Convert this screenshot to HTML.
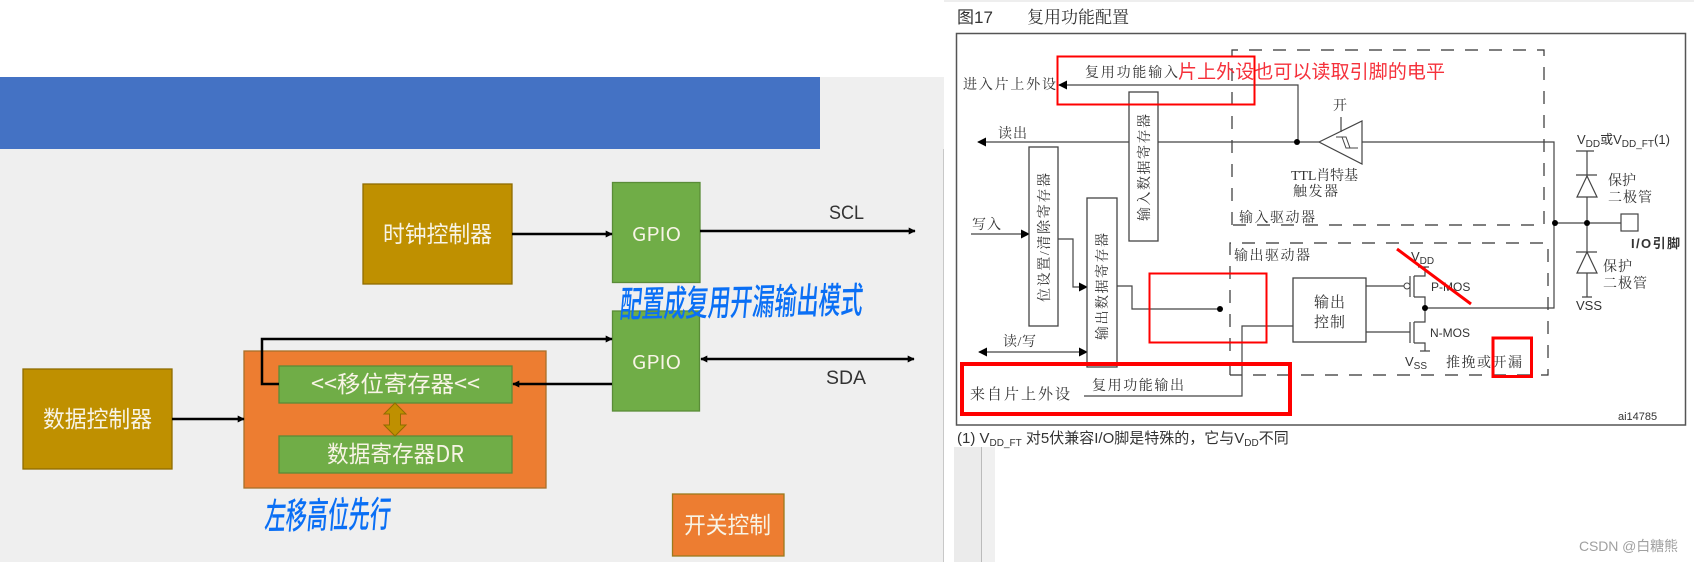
<!DOCTYPE html>
<html><head><meta charset="utf-8"><style>
html,body{margin:0;padding:0;background:#fff;width:1694px;height:562px;overflow:hidden}
svg{display:block;position:absolute;left:0;top:0}
.l{font-family:"Liberation Sans","Noto Sans CJK SC",sans-serif}
.cw{font-family:"Noto Sans CJK SC","Liberation Sans",sans-serif;fill:#f8f4e6;font-size:23px;font-weight:400}
.s{font-family:"Liberation Serif","Noto Serif CJK SC",serif;fill:#333;font-size:14px}
.a{font-family:"Liberation Sans","Noto Sans CJK SC",sans-serif;fill:#333;font-size:13px}
.h{font-family:"Noto Sans CJK SC",sans-serif;fill:#0a6ff5;font-weight:500}
</style></head><body>
<svg width="1694" height="562" viewBox="0 0 1694 562" xmlns="http://www.w3.org/2000/svg">
<defs>
<marker id="m" markerUnits="userSpaceOnUse" viewBox="0 0 10 10" refX="9" refY="5" markerWidth="9" markerHeight="10" orient="auto-start-reverse"><path d="M0 0L10 5L0 10Z" fill="#000"/></marker>
<marker id="b" markerUnits="userSpaceOnUse" viewBox="0 0 10 10" refX="9" refY="5" markerWidth="7" markerHeight="8" orient="auto-start-reverse"><path d="M0 0L10 5L0 10Z" fill="#000"/></marker>
</defs>

<!-- backgrounds -->
<rect x="0" y="77" width="944" height="485" fill="#efefef"/>
<rect x="0" y="77" width="820" height="72" fill="#4472c4"/>
<rect x="944" y="2" width="750" height="560" fill="#fff"/>
<rect x="944" y="0" width="750" height="2" fill="#eee"/>
<rect x="943" y="149" width="1" height="413" fill="#c8c8c8"/>
<rect x="955" y="447" width="40" height="115" fill="#f0f0f0"/>
<rect x="954" y="447" width="27" height="115" fill="#ebebeb"/>
<rect x="981" y="447" width="1" height="115" fill="#bbb"/>

<!-- LEFT -->
<g stroke-width="1.3">
<rect x="363" y="184" width="149" height="100" fill="#bf9000" stroke="#8f6c00"/>
<rect x="612.5" y="182.5" width="87.5" height="100" fill="#70ad47" stroke="#5a8c38"/>
<rect x="612.5" y="311" width="87" height="100" fill="#70ad47" stroke="#5a8c38"/>
<rect x="23" y="369" width="149" height="100" fill="#bf9000" stroke="#8f6c00"/>
<rect x="244" y="351" width="302" height="137" fill="#ed7d31" stroke="#a8702a"/>
<rect x="279" y="366" width="233" height="37" fill="#70ad47" stroke="#5a8c38"/>
<rect x="279" y="436" width="233" height="37" fill="#70ad47" stroke="#5a8c38"/>
<rect x="672.5" y="494" width="111.5" height="62" fill="#ed7d31" stroke="#9b7a1c"/>
</g>
<path d="M395 403L406 414H400.500V425H406L395 436L384 425H389.500V414H384Z" fill="#bf9000" stroke="#8f6c00"/>
<g stroke="#000" stroke-width="2.500" fill="none">
<path d="M512 234H612" marker-end="url(#b)"/>
<path d="M700 231H915" marker-end="url(#b)"/>
<path d="M701 359H914" marker-start="url(#b)" marker-end="url(#b)"/>
<path d="M279 384H262V339H612" marker-end="url(#b)"/>
<path d="M612 384H513" marker-end="url(#b)"/>
<path d="M172 419H244" marker-end="url(#b)"/>
</g>
<text class="cw" x="383" y="242" textLength="109" lengthAdjust="spacingAndGlyphs">时钟控制器</text>
<text class="cw" x="43" y="427" textLength="109" lengthAdjust="spacingAndGlyphs">数据控制器</text>
<text class="cw" x="311" y="392" textLength="169" lengthAdjust="spacingAndGlyphs">&lt;&lt;移位寄存器&lt;&lt;</text>
<text class="cw" x="327" y="462" textLength="137" lengthAdjust="spacingAndGlyphs">数据寄存器DR</text>
<text class="cw" x="684" y="533" textLength="87" lengthAdjust="spacingAndGlyphs">开关控制</text>
<text class="cw" x="632" y="241" style="font-size:19px" textLength="49" lengthAdjust="spacingAndGlyphs">GPIO</text>
<text class="cw" x="632" y="369" style="font-size:19px" textLength="49" lengthAdjust="spacingAndGlyphs">GPIO</text>
<text class="l" x="829" y="219" font-size="19" fill="#333" textLength="35" lengthAdjust="spacingAndGlyphs">SCL</text>
<text class="l" x="826" y="384" font-size="19" fill="#333" textLength="40" lengthAdjust="spacingAndGlyphs">SDA</text>
<text class="h" transform="translate(619,317) rotate(-1) skewX(-6)" font-size="36" textLength="243" lengthAdjust="spacingAndGlyphs">配置成复用开漏输出模式</text>
<text class="h" transform="translate(264,529) rotate(-1) skewX(-6)" font-size="36" textLength="126" lengthAdjust="spacingAndGlyphs">左移高位先行</text>

<!-- RIGHT -->
<text class="l" x="957" y="23" font-size="17" fill="#333">图17</text>
<text class="s" x="1027" y="23" style="font-size:17px" textLength="102">复用功能配置</text>
<rect x="956.500" y="33.500" width="729" height="391.500" fill="none" stroke="#555" stroke-width="1.500"/>
<g fill="none" stroke="#333" stroke-width="1.200" stroke-dasharray="13 11">
<path d="M1232 225V50H1544V225H1232"/>
<path d="M1230 375V243H1548V375H1230"/>
</g>
<g fill="none" stroke="#444" stroke-width="1.200">
<path d="M1059 85H1298V142" marker-start="url(#m)"/>
<path d="M978 142H1319" marker-start="url(#m)"/>
<path d="M971 234H1029" marker-end="url(#m)"/>
<path d="M1058 239H1073V287H1087" marker-end="url(#m)"/>
<path d="M979 352H1087" marker-start="url(#m)" marker-end="url(#m)"/>
<path d="M1117 286H1132V309H1220"/>
<path d="M1084 396H1242V326H1293"/>
<path d="M1362 142H1554V308H1425"/>
<path d="M1555 223H1621"/>
<path d="M1587 151V297M1576 151H1594M1576 175H1597M1576 252H1597M1582 297H1592"/>
<path d="M1341 117V132"/>
<path d="M1366 286H1404M1366 332H1410"/>
<!-- MOS -->
<path d="M1410 276V297M1414 276V297M1414 276H1425V267M1414 297H1425V308M1418 267H1429"/>
<path d="M1410 322V343M1414 322V343M1414 322H1425V308M1414 343H1425V351M1420 351H1430"/>
</g>
<circle cx="1407" cy="286" r="3" fill="#fff" stroke="#444"/>
<path d="M1319 142L1362 121V164Z" fill="none" stroke="#444" stroke-width="1.200"/>
<path d="M1336 137H1346L1350 148H1358M1342 137L1346 148H1350" fill="none" stroke="#444" stroke-width="1"/>
<path d="M1587 176L1597 197H1577ZM1587 252L1597 273H1577Z" fill="#fff" stroke="#444" stroke-width="1.200"/>
<rect x="1621" y="214" width="17" height="17" fill="#fff" stroke="#444" stroke-width="1.200"/>
<g fill="#fff" stroke="#444" stroke-width="1.300">
<rect x="1129" y="92" width="29" height="149"/>
<rect x="1029" y="147" width="29" height="179"/>
<rect x="1087" y="198" width="30" height="169"/>
<rect x="1293" y="278" width="73" height="64"/>
</g>
<g fill="#000">
<circle cx="1297" cy="142" r="3"/><circle cx="1220" cy="309" r="3"/>
<circle cx="1555" cy="223" r="3"/><circle cx="1587" cy="223" r="3"/><circle cx="1425" cy="308" r="3"/>
</g>

<g class="s">
<text class="s" x="963" y="89" textLength="93">进入片上外设</text>
<text class="s" x="1085" y="77" textLength="93">复用功能输入</text>
<text class="s" x="998" y="138" textLength="29">读出</text>
<text class="s" x="972" y="229" textLength="29">写入</text>
<text class="s" x="1003" y="346" textLength="33">读/写</text>
<text class="s" x="1092" y="390" textLength="92">复用功能输出</text>
<text class="s" x="970" y="399" style="font-size:15px" textLength="100">来自片上外设</text>
<text class="s" transform="translate(1149,221) rotate(-90)" textLength="107">输入数据寄存器</text>
<text class="s" transform="translate(1049,302) rotate(-90)" textLength="129">位设置/清除寄存器</text>
<text class="s" transform="translate(1107,340) rotate(-90)" textLength="107">输出数据寄存器</text>
<text class="s" x="1239" y="222" textLength="76">输入驱动器</text>
<text class="s" x="1234" y="260" textLength="76">输出驱动器</text>
<text class="s" x="1333" y="110">开</text>
<text class="s" x="1291" y="180" textLength="67">TTL肖特基</text>
<text class="s" x="1293" y="196" textLength="45">触发器</text>
<text class="s" x="1314" y="307" style="font-size:15px" textLength="31">输出</text>
<text class="s" x="1314" y="327" style="font-size:15px" textLength="31">控制</text>
<text class="s" x="1608" y="185" textLength="28">保护</text>
<text class="s" x="1608" y="202" textLength="44">二极管</text>
<text class="s" x="1603" y="271" textLength="29">保护</text>
<text class="s" x="1603" y="288" textLength="44">二极管</text>
<text class="s" x="1446" y="367" textLength="76">推挽或开漏</text>
</g>
<text class="a" x="1577" y="144">V<tspan font-size="10" dy="3">DD</tspan><tspan dy="-3">或V</tspan><tspan font-size="10" dy="3">DD_FT</tspan><tspan dy="-3">(1)</tspan></text>
<text class="a" x="1576" y="310" font-size="12">VSS</text>
<text class="a" x="1631" y="248" style="font-weight:700" textLength="49">I/O引脚</text>
<text class="a" x="1411" y="261">V<tspan font-size="10" dy="3">DD</tspan></text>
<text class="a" x="1431" y="291" style="font-size:12px">P-MOS</text>
<text class="a" x="1430" y="337" style="font-size:12px">N-MOS</text>
<text class="a" x="1405" y="366">V<tspan font-size="10" dy="3">SS</tspan></text>
<text class="a" x="1618" y="420" style="font-size:11px">ai14785</text>
<text class="a" x="957" y="443" style="font-size:15px">(1) V<tspan font-size="10" dy="3">DD_FT</tspan><tspan dy="-3"> 对5伏兼容I/O脚是特殊的，它与V</tspan><tspan font-size="10" dy="3">DD</tspan><tspan dy="-3">不同</tspan></text>
<text class="l" x="1579" y="551" font-size="14" fill="#a0a0a0" textLength="99">CSDN @白糖熊</text>

<!-- red annotations -->
<text class="l" x="1178" y="78" font-size="19" fill="#f5303a" textLength="267">片上外设也可以读取引脚的电平</text>
<g fill="none" stroke="#f00">
<rect x="1057.500" y="56.500" width="197" height="48" stroke-width="2"/>
<rect x="1149.500" y="273.500" width="117" height="69" stroke-width="2"/>
<rect x="962" y="364" width="328" height="50" stroke-width="4"/>
<rect x="1493" y="338" width="38.500" height="38.500" stroke-width="3"/>
<path d="M1397 249L1471 304" stroke-width="3"/>
</g>
</svg>
</body></html>
